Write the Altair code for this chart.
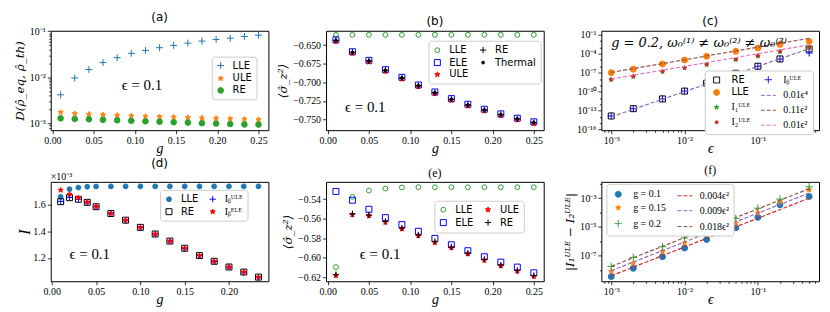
import altair as alt
import pandas as pd

# ---------------- panel (a) ----------------
a_g = [0.01, 0.0271, 0.0443, 0.0614, 0.0786, 0.0957, 0.1129, 0.13,
       0.1471, 0.1643, 0.1814, 0.1986, 0.2157, 0.2329, 0.25]
a_lle = [0.0042, 0.0097, 0.0148, 0.0210, 0.0268, 0.0332, 0.0385, 0.0440,
         0.0493, 0.0553, 0.0611, 0.0663, 0.0708, 0.0769, 0.0821]
a_ule = [0.00175, 0.00165, 0.00160, 0.00156, 0.00151, 0.00147, 0.00144, 0.00141,
         0.00138, 0.00135, 0.00132, 0.00130, 0.00127, 0.00125, 0.00122]
a_re = [0.00130, 0.00126, 0.00124, 0.00121, 0.00118, 0.00115, 0.00112, 0.00110,
        0.00107, 0.00105, 0.00102, 0.00100, 0.00098, 0.00096, 0.00095]

# ---------------- panel (b) ----------------
b_g = [0.01, 0.03, 0.05, 0.07, 0.09, 0.11, 0.13, 0.15, 0.17, 0.19, 0.21, 0.23, 0.25]
b_lle = [-0.6362, -0.6362, -0.6362, -0.6362, -0.6362, -0.6362, -0.6362,
         -0.6362, -0.6362, -0.6362, -0.6362, -0.6362, -0.6362]
b_ele = [-0.6429, -0.6589, -0.6705, -0.6830, -0.6933, -0.7036, -0.7130,
         -0.7219, -0.7295, -0.7362, -0.7424, -0.7482, -0.7531]
b_re = [-0.6438, -0.6598, -0.6714, -0.6839, -0.6942, -0.7045, -0.7139,
        -0.7228, -0.7304, -0.7371, -0.7433, -0.7491, -0.7540]
b_thermal = [-0.6438, -0.6598, -0.6714, -0.6839, -0.6942, -0.7045, -0.7139,
             -0.7228, -0.7304, -0.7371, -0.7433, -0.7491, -0.7540]
b_ule = [-0.6451, -0.6611, -0.6727, -0.6852, -0.6955, -0.7058, -0.7152,
         -0.7241, -0.7317, -0.7384, -0.7446, -0.7504, -0.7553]

# ---------------- panel (c) ----------------
c_eps = [0.001, 0.002, 0.005, 0.01, 0.02, 0.05, 0.1, 0.2, 0.5]
c_re = [1.4e-14, 2.0e-13, 7.0e-12, 1.2e-10, 2.2e-9, 8.0e-8, 1.05e-6, 1.5e-5, 5.6e-4]
c_ib = [1.4e-14, 2.0e-13, 7.0e-12, 1.2e-10, 2.1e-9, 7.8e-8, 1.0e-6, 1.4e-5, 1.3e-4]
c_lle = [1.0e-7, 3.6e-7, 2.4e-6, 1.0e-5, 3.9e-5, 2.4e-4, 8.0e-4, 3.0e-3, 9.0e-3]
c_i1 = [8.3e-9, 2.5e-8, 1.5e-7, 5.8e-7, 1.9e-6, 1.2e-5, 4.4e-5, 2.1e-4, 1.0e-3]
c_i2 = [8.0e-9, 2.6e-8, 1.6e-7, 6.0e-7, 2.0e-6, 1.25e-5, 4.5e-5, 2.2e-4, 8.5e-4]
c_fit_eps = [0.001, 0.5]
c_fit_e4 = [1.0e-14, 6.25e-4]      # 0.01 eps^4
c_fit_11 = [1.1e-7, 2.75e-2]       # 0.11 eps^2
c_fit_01 = [1.0e-8, 2.5e-3]        # 0.01 eps^2

# ---------------- panel (d) ----------------
d_g = [0.01, 0.02, 0.03, 0.04, 0.05, 0.0667, 0.0833, 0.1, 0.1167, 0.1333,
       0.15, 0.1667, 0.1833, 0.2, 0.2167, 0.2333]
d_lle = [1.659e-3, 1.717e-3, 1.729e-3, 1.735e-3, 1.737e-3, 1.738e-3, 1.738e-3, 1.738e-3,
         1.738e-3, 1.738e-3, 1.738e-3, 1.738e-3, 1.738e-3, 1.738e-3, 1.738e-3, 1.738e-3]
d_re = [1.623e-3, 1.653e-3, 1.641e-3, 1.618e-3, 1.585e-3, 1.534e-3, 1.484e-3, 1.430e-3,
        1.380e-3, 1.327e-3, 1.273e-3, 1.218e-3, 1.175e-3, 1.132e-3, 1.094e-3, 1.056e-3]
d_ibu = [1.625e-3, 1.655e-3, 1.642e-3, 1.618e-3, 1.585e-3, 1.534e-3, 1.484e-3, 1.430e-3,
         1.380e-3, 1.327e-3, 1.273e-3, 1.218e-3, 1.175e-3, 1.132e-3, 1.094e-3, 1.056e-3]
d_ibe = [1.710e-3, 1.679e-3, 1.653e-3, 1.620e-3, 1.587e-3, 1.535e-3, 1.484e-3, 1.430e-3,
         1.380e-3, 1.327e-3, 1.273e-3, 1.218e-3, 1.175e-3, 1.132e-3, 1.094e-3, 1.056e-3]

# ---------------- panel (e) ----------------
e_g = [0.01, 0.03, 0.05, 0.07, 0.09, 0.11, 0.13, 0.15, 0.17, 0.19, 0.21, 0.23, 0.25]
e_lle = [-0.6096, -0.5376, -0.5311, -0.5290, -0.5280, -0.5277, -0.5277,
         -0.5277, -0.5277, -0.5277, -0.5277, -0.5277, -0.5277]
e_ele = [-0.5321, -0.5410, -0.5503, -0.5589, -0.5660, -0.5729, -0.5801,
         -0.5867, -0.5928, -0.5990, -0.6045, -0.6096, -0.6155]
e_re = [-0.6173, -0.5549, -0.5562, -0.5628, -0.5695, -0.5767, -0.5835,
        -0.5890, -0.5952, -0.6017, -0.6075, -0.6130, -0.6183]
e_ule = [-0.6181, -0.5560, -0.5570, -0.5636, -0.5703, -0.5775, -0.5843,
         -0.5898, -0.5960, -0.6025, -0.6083, -0.6138, -0.6191]

# ---------------- panel (f) ----------------
f_eps = [0.001, 0.002, 0.005, 0.01, 0.02, 0.05, 0.1, 0.2, 0.5]
f_g01 = [3.5e-9, 1.32e-8, 8.5e-8, 3.4e-7, 1.35e-6, 8.7e-6, 4.6e-5, 3.5e-4, 1.32e-3]
f_g015 = [8.1e-9, 2.95e-8, 1.9e-7, 7.6e-7, 3.0e-6, 1.86e-5, 9.5e-5, 5.6e-4, 3.8e-3]
f_g02 = [1.8e-8, 7.6e-8, 4.2e-7, 1.7e-6, 7.1e-6, 3.9e-5, 2.0e-4, 8.5e-4, 6.2e-3]
f_fit_eps = [0.001, 0.5]
f_fit_004 = [4.0e-9, 1.0e-3]
f_fit_009 = [9.0e-9, 2.25e-3]
f_fit_018 = [1.8e-8, 4.5e-3]

# ---------------- styling helpers ----------------
SERIF = "Liberation Serif"
DSERIF = "DejaVu Serif"
SANS = "DejaVu Sans"
PLUS = "M-1,0L1,0M0,-1L0,1"
STAR = ("M0,-1L0.235,-0.324L0.951,-0.309L0.38,0.124L0.588,0.809L0,0.4"
        "L-0.588,0.809L-0.38,0.124L-0.951,-0.309L-0.235,-0.324Z")
NONE = "transparent"
SOLID = [1, 0]
DASH = [4, 2]
SUP = str.maketrans("-0123456789", "⁻⁰¹²³⁴⁵⁶⁷⁸⁹")

AX = dict(grid=False, domain=False, tickColor="black", tickWidth=0.8,
          labelFont=SERIF, labelFontSize=10, labelColor="black", labelPadding=2,
          labelFlush=False, labelOverlap=False,
          titleFontStyle="italic", titleFontWeight="normal", titleColor="black")


def tfont(title, horizontal):
    if title is None:
        return {}
    if horizontal:
        return dict(titleFont=SERIF, titleFontSize=14, titlePadding=-4)
    if len(title) <= 1:
        return dict(titleFont=SERIF, titleFontSize=16, titlePadding=0)
    return dict(titleFont=DSERIF, titleFontSize=12, titlePadding=3)


def lin_axis(title, values, fmt=None, expr=None, horizontal=False):
    kw = dict(AX)
    kw.update(tfont(title, horizontal))
    if fmt:
        kw["format"] = fmt
    if expr:
        kw["labelExpr"] = expr
    return alt.Axis(title=title, values=values, tickSize=3.5, **kw)


def log_axis(title, exps, minors, horizontal=False):
    conds = [f"abs(datum.value / 1e{e} - 1) < 1e-6" for e in exps]
    lab = " : ".join(f"{c} ? '10{str(e).translate(SUP)}'" for c, e in zip(conds, exps)) + " : ''"
    vals = sorted([float(f"1e{e}") for e in exps] + minors)
    kw = dict(AX)
    kw.update(tfont(title, horizontal))
    return alt.Axis(title=title, values=vals, labelExpr=lab,
                    tickSize={"condition": {"test": " || ".join(conds), "value": 3.5}, "value": 2},
                    **kw)


def legend(x, y, cols, font=SANS):
    return alt.Legend(title=None, orient="none", legendX=x, legendY=y, columns=cols,
                      fillColor="white", strokeColor="#cccccc", cornerRadius=3,
                      padding=4, rowPadding=2, columnPadding=8, labelFont=font,
                      labelFontSize=10, labelColor="black", labelOffset=7,
                      symbolStrokeWidth=1, symbolOpacity=1)


def long(x, d):
    rows = []
    for name, ys in d.items():
        for xi, yi in zip(x, ys):
            rows.append({"x": xi, "y": yi, "series": name})
    return pd.DataFrame(rows)


def panel(title, title_font, pts, lines, order, style, xsc, ysc, xax, yax, leg, texts):
    X = alt.X("x:Q", scale=xsc, axis=xax)
    Y = alt.Y("y:Q", scale=ysc, axis=yax)

    def sc(i, **kw):
        return alt.Scale(domain=order, range=[style[s][i] for s in order], **kw)

    layers = [alt.Chart(pts).mark_point(opacity=1, strokeWidth=1).encode(
        x=X, y=Y,
        shape=alt.Shape("series:N", scale=sc(0), legend=leg),
        stroke=alt.Stroke("series:N", scale=sc(1), legend=leg),
        fill=alt.Fill("series:N", scale=sc(2), legend=leg),
        size=alt.Size("series:N", scale=sc(3, type="ordinal"), legend=leg),
        order=alt.Order("z:Q"),
    )]
    if lines is not None:
        layers.append(alt.Chart(lines).mark_line(strokeWidth=1.2).encode(
            x=X, y=Y,
            stroke=alt.Stroke("series:N", scale=sc(1), legend=leg),
            strokeDash=alt.StrokeDash("series:N", scale=sc(4), legend=leg),
        ))
    for tx, ty, t, props in texts:
        layers.append(alt.Chart(pd.DataFrame({"x": [tx], "y": [ty], "t": [t]}))
                      .mark_text(color="black", **props)
                      .encode(x=X, y=Y, text="t:N"))
    return alt.layer(*layers).properties(
        width=219, height=100,
        title=alt.TitleParams(text=title, font=title_font, fontSize=12,
                              fontWeight="normal", offset=2, color="black"))


def with_z(df, draw_order):
    df = df.copy()
    df["z"] = df["series"].map({s: i for i, s in enumerate(draw_order)})
    return df.sort_values("z", kind="stable")


EPS_TXT = dict(align="left", baseline="middle", font=SERIF, fontSize=15)
MIXED_FONT = alt.ExprRef("indexof(['RE','LLE'], datum.label) >= 0 ? 'DejaVu Sans' : 'Liberation Serif'")
lin_g = alt.Scale(domain=[-0.002, 0.262], nice=False, zero=False)
g_vals = [0, 0.05, 0.1, 0.15, 0.2, 0.25]
log_eps_minor = [8e-4, 9e-4] + [k * 1e-3 for k in range(2, 10)] + \
    [k * 1e-2 for k in range(2, 10)] + [k * 1e-1 for k in range(2, 7)]

# ---------- (a)
a_order = ["LLE", "ULE", "RE"]
a_style = {"LLE": (PLUS, "#1f77b4", NONE, 49, SOLID),
           "ULE": (STAR, "#ff7f0e", "#ff7f0e", 30, SOLID),
           "RE": ("circle", "#2ca02c", "#2ca02c", 32, SOLID)}
a_pts = with_z(long(a_g, {"LLE": a_lle, "ULE": a_ule, "RE": a_re}), a_order)
pa = panel("(a)", SANS, a_pts, None, a_order, a_style, lin_g,
           alt.Scale(type="log", domain=[7.2e-4, 0.1023], nice=False),
           lin_axis("g", g_vals, ".2f", horizontal=True),
           log_axis("D(ρ̂_eq, ρ̂_th)", [-3, -2, -1],
                    [8e-4, 9e-4] + [k * 1e-3 for k in range(2, 10)] + [k * 1e-2 for k in range(2, 10)]),
           legend(162, 26, 1), [(0.084, 0.007, "ϵ = 0.1", EPS_TXT)])

# ---------- (b)
b_order = ["LLE", "ELE", "ULE", "RE", "Thermal"]
b_style = {"LLE": ("circle", "#2ca02c", NONE, 24, SOLID),
           "RE": (PLUS, "black", NONE, 40, SOLID),
           "ELE": ("square", "#0000ff", NONE, 36, SOLID),
           "Thermal": ("circle", "black", "black", 8, SOLID),
           "ULE": (STAR, "#ff0000", "#ff0000", 30, SOLID)}
b_pts = with_z(long(b_g, {"LLE": b_lle, "ELE": b_ele, "ULE": b_ule, "RE": b_re,
                          "Thermal": b_thermal}), b_order)
pb = panel("(b)", SANS, b_pts, None, b_order, b_style, lin_g,
           alt.Scale(domain=[-0.7643, -0.6308], nice=False, zero=False),
           lin_axis("g", g_vals, ".2f", horizontal=True),
           lin_axis("⟨σ̂_z²⟩", [-0.75, -0.725, -0.7, -0.675, -0.65], ".3f"),
           legend(103, 10, 2), [(0.021, -0.7336, "ϵ = 0.1", EPS_TXT)])

# ---------- (c)
IB_U = "Iᵦᵁᴸᴱ"
I1_U = "I₁ᵁᴸᴱ"
I2_U = "I₂ᵁᴸᴱ"
c_order = ["RE", "LLE", I1_U, I2_U, IB_U, "0.01ϵ⁴", "0.11ϵ²", "0.01ϵ²"]
c_style = {"RE": ("square", "black", NONE, 36, SOLID),
           IB_U: (PLUS, "#0000ff", NONE, 49, SOLID),
           "LLE": ("circle", "#ff7f0e", "#ff7f0e", 36, SOLID),
           "0.01ϵ⁴": ("stroke", "#9467bd", NONE, 225, DASH),
           I1_U: (STAR, "#2ca02c", "#2ca02c", 25, SOLID),
           "0.11ϵ²": ("stroke", "#8c564b", NONE, 225, DASH),
           I2_U: ("circle", "#d62728", "#d62728", 9, SOLID),
           "0.01ϵ²": ("stroke", "#e377c2", NONE, 225, DASH)}
c_pts = with_z(long(c_eps, {"RE": c_re, "LLE": c_lle, I1_U: c_i1, I2_U: c_i2, IB_U: c_ib}),
               ["RE", "LLE", I1_U, I2_U, IB_U])
c_lines = long(c_fit_eps, {"0.01ϵ⁴": c_fit_e4, "0.11ϵ²": c_fit_11, "0.01ϵ²": c_fit_01})
pc = panel("(c)", SANS, c_pts, c_lines, c_order, c_style,
           alt.Scale(type="log", domain=[7.33e-4, 0.682], nice=False),
           alt.Scale(type="log", domain=[7.9e-17, 0.427], nice=False),
           log_axis("ϵ", [-3, -2, -1], log_eps_minor, horizontal=True),
           log_axis(None, [-16, -13, -10, -7, -4, -1],
                    [float(f"1e{e}") for e in [-15, -14, -12, -11, -9, -8, -6, -5, -3, -2]]),
           legend(104, 40, 2, font=MIXED_FONT),
           [(0.001, 5.5e-3, "g = 0.2, ω₀⁽¹⁾ ≠ ω₀⁽²⁾ ≠ ω₀⁽³⁾",
             dict(align="left", baseline="middle", font=DSERIF, fontSize=13, fontStyle="italic"))])

# ---------- (d)
IB_E = "Iᵦᴱᴸᴱ"
d_order = ["LLE", "RE", IB_U, IB_E]
d_style = {"LLE": ("circle", "#1f77b4", "#1f77b4", 24, SOLID),
           IB_U: (PLUS, "#0000ff", NONE, 40, SOLID),
           "RE": ("square", "black", NONE, 36, SOLID),
           IB_E: (STAR, "#ff0000", "#ff0000", 28, SOLID)}
d_pts = with_z(long(d_g, {"LLE": d_lle, "RE": d_re, IB_U: d_ibu, IB_E: d_ibe}), d_order)
pd_ = panel("(d)", SANS, d_pts, None, d_order, d_style,
            alt.Scale(domain=[-0.0012, 0.2445], nice=False, zero=False),
            alt.Scale(domain=[1.025e-3, 1.772e-3], nice=False, zero=False),
            lin_axis("g", [0, 0.05, 0.1, 0.15, 0.2], ".2f", horizontal=True),
            lin_axis("I", [1.2e-3, 1.4e-3, 1.6e-3], expr="format(datum.value * 1000, '.1f')"),
            legend(110, 8, 2, font=MIXED_FONT),
            [(0.020, 1.227e-3, "ϵ = 0.1", EPS_TXT),
             (-0.0012, 1.81e-3, "×10⁻³", dict(align="left", baseline="middle", font=SERIF, fontSize=10))])

# ---------- (e)
e_order = ["LLE", "ELE", "ULE", "RE"]
e_style = {"LLE": ("circle", "#2ca02c", NONE, 24, SOLID),
           "ULE": (STAR, "#ff0000", "#ff0000", 30, SOLID),
           "ELE": ("square", "#0000ff", NONE, 36, SOLID),
           "RE": (PLUS, "black", NONE, 40, SOLID)}
e_pts = with_z(long(e_g, {"LLE": e_lle, "ELE": e_ele, "ULE": e_ule, "RE": e_re}), e_order)
pe = panel("(e)", SERIF, e_pts, None, e_order, e_style, lin_g,
           alt.Scale(domain=[-0.6241, -0.5222], nice=False, zero=False),
           lin_axis("g", g_vals, ".2f", horizontal=True),
           lin_axis("⟨σ̂_z²⟩", [-0.62, -0.6, -0.58, -0.56, -0.54], ".2f"),
           legend(109, 19, 2), [(0.039, -0.5966, "ϵ = 0.1", EPS_TXT)])

# ---------- (f)
f_order = ["g = 0.1", "g = 0.15", "g = 0.2", "0.004ϵ²", "0.009ϵ²", "0.018ϵ²"]
f_style = {"g = 0.1": ("circle", "#1f77b4", "#1f77b4", 36, SOLID),
           "0.004ϵ²": ("stroke", "#d62728", NONE, 225, DASH),
           "g = 0.15": (STAR, "#ff7f0e", "#ff7f0e", 30, SOLID),
           "0.009ϵ²": ("stroke", "#9467bd", NONE, 225, DASH),
           "g = 0.2": (PLUS, "#2ca02c", NONE, 56, SOLID),
           "0.018ϵ²": ("stroke", "#8c564b", NONE, 225, DASH)}
f_pts = with_z(long(f_eps, {"g = 0.1": f_g01, "g = 0.15": f_g015, "g = 0.2": f_g02}),
               ["g = 0.1", "g = 0.15", "g = 0.2"])
f_lines = long(f_fit_eps, {"0.004ϵ²": f_fit_004, "0.009ϵ²": f_fit_009, "0.018ϵ²": f_fit_018})
pf = panel("(f)", SERIF, f_pts, f_lines, f_order, f_style,
           alt.Scale(type="log", domain=[7.33e-4, 0.682], nice=False),
           alt.Scale(type="log", domain=[1.66e-9, 0.0136], nice=False),
           log_axis("ϵ", [-3, -2, -1], log_eps_minor, horizontal=True),
           log_axis("|I₁ᵁᴸᴱ − I₂ᵁᴸᴱ|", [-7, -5, -3],
                    [float(f"1e{e}") for e in [-8, -6, -4, -2]]),
           legend(5, 2, 2, font=SERIF), [])

chart = alt.concat(pa, pb, pc, pd_, pe, pf, columns=3, bounds="flush",
                   spacing=alt.RowColnumber(row=52, column=58)).resolve_scale(
    x="independent", y="independent", shape="independent", stroke="independent",
    fill="independent", size="independent", strokeDash="independent"
).resolve_legend(
    shape="independent", stroke="independent", fill="independent",
    size="independent", strokeDash="independent"
).properties(
    padding={"left": 5, "top": 1, "right": 2, "bottom": 0}
).configure_view(stroke="black", strokeWidth=1)

chart.save("out.html", embed_options={"renderer": "svg", "actions": False})
